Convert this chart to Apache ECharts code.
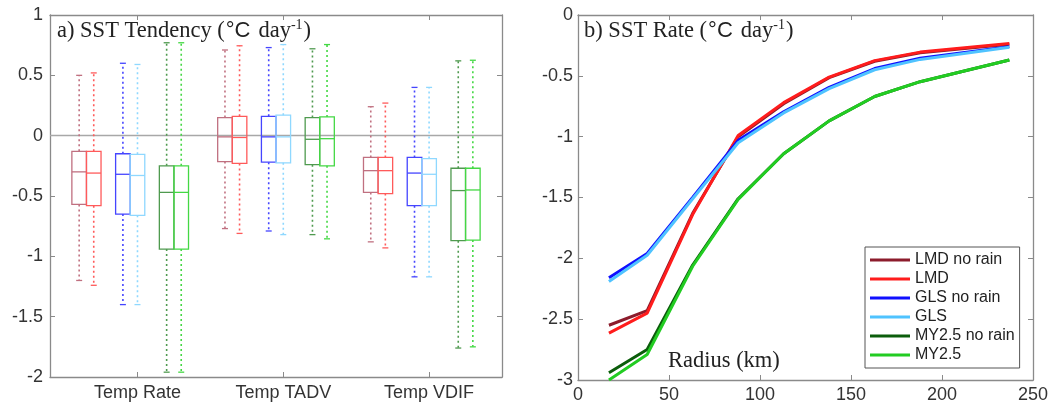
<!DOCTYPE html>
<html>
<head>
<meta charset="utf-8">
<title>SST Tendency / SST Rate</title>
<script src="https://cdn.jsdelivr.net/npm/echarts@6/dist/echarts.min.js"></script>
<style>
  html, body { margin: 0; padding: 0; background: #fff; }
  #main { width: 1058px; height: 407px; }
</style>
</head>
<body>
<div id="main"></div>
<script>
// ---- panel a: box statistics [min, q1, median, q3, max] for Rate / TADV / VDIF
var groupNames = ['Temp Rate', 'Temp TADV', 'Temp VDIF'];
var lmdNoRainBox = [[-1.20, -0.57, -0.30, -0.13, 0.50], [-0.77, -0.215, -0.01, 0.15, 0.71], [-0.88, -0.47, -0.29, -0.18, 0.24]];
var lmdBox = [[-1.24, -0.58, -0.31, -0.13, 0.52], [-0.81, -0.23, -0.015, 0.16, 0.745], [-0.93, -0.48, -0.29, -0.18, 0.27]];
var glsNoRainBox = [[-1.40, -0.65, -0.32, -0.15, 0.60], [-0.79, -0.22, -0.01, 0.16, 0.73], [-1.17, -0.58, -0.31, -0.18, 0.40]];
var glsBox = [[-1.40, -0.66, -0.33, -0.155, 0.59], [-0.82, -0.225, -0.01, 0.17, 0.755], [-1.17, -0.58, -0.32, -0.19, 0.40]];
var myNoRainBox = [[-1.96, -0.94, -0.47, -0.25, 0.77], [-0.82, -0.24, -0.03, 0.15, 0.72], [-1.76, -0.87, -0.455, -0.27, 0.62]];
var myBox = [[-1.96, -0.94, -0.47, -0.25, 0.77], [-0.855, -0.25, -0.025, 0.155, 0.755], [-1.75, -0.865, -0.45, -0.27, 0.625]];

// ---- panel b: SST rate vs radius
var radius = [17, 38, 63, 88, 113, 138, 163, 188, 237];
var lmdNoRain = [-2.55, -2.43, -1.63, -1.0, -0.73, -0.515, -0.38, -0.31, -0.24];
var lmd = [-2.615, -2.45, -1.64, -0.99, -0.72, -0.51, -0.375, -0.305, -0.235];
var glsNoRain = [-2.16, -1.96, -1.5, -1.03, -0.795, -0.595, -0.44, -0.355, -0.26];
var gls = [-2.19, -1.975, -1.51, -1.05, -0.805, -0.605, -0.45, -0.365, -0.265];
var myNoRain = [-2.94, -2.75, -2.055, -1.51, -1.14, -0.87, -0.67, -0.548, -0.37];
var my = [-3.0, -2.79, -2.065, -1.515, -1.14, -0.87, -0.67, -0.548, -0.37];

var seriesNames = ['LMD no rain', 'LMD', 'GLS no rain', 'GLS', 'MY2.5 no rain', 'MY2.5'];
var lineColors = ['#8c1c2c', '#ff1c1c', '#1010ff', '#4fc3ff', '#0b5d0b', '#22cc22'];
var boxColors = ['#c07080', '#ff5a5a', '#4545ff', '#8fd8ff', '#4f9a4f', '#44d844'];

// slots on the hidden category axis: 2 empty at each side, pairs separated by 1 slot
var slotCount = 32;
var slotOffset = [0, 1, 3, 4, 6, 7];
var xLabels = [];
for (var s = 0; s < slotCount; s++) xLabels.push('');
xLabels[6] = groupNames[0];
xLabels[16] = groupNames[1];
xLabels[26] = groupNames[2];

var allBoxes = [lmdNoRainBox, lmdBox, glsNoRainBox, glsBox, myNoRainBox, myBox];
var boxData = [];
for (var m = 0; m < allBoxes.length; m++) {
  for (var g = 0; g < 3; g++) {
    var b = allBoxes[m][g];
    boxData.push([2 + g * 10 + slotOffset[m], b[0], b[1], b[2], b[3], b[4], m]);
  }
}

function renderBox(params, api) {
  var x = api.value(0);
  var pMin = api.coord([x, api.value(1)]);
  var pQ1 = api.coord([x, api.value(2)]);
  var pMed = api.coord([x, api.value(3)]);
  var pQ3 = api.coord([x, api.value(4)]);
  var pMax = api.coord([x, api.value(5)]);
  var w = api.size([1, 0])[0];
  var cx = pMed[0];
  var color = boxColors[api.value(6)];
  var solid = { stroke: color, lineWidth: 1.3, fill: null };
  var dotted = { stroke: color, lineWidth: 1.6, lineDash: [2, 3], fill: null };
  return {
    type: 'group',
    children: [
      { type: 'line', shape: { x1: cx, y1: pQ3[1], x2: cx, y2: pMax[1] }, style: dotted },
      { type: 'line', shape: { x1: cx, y1: pQ1[1], x2: cx, y2: pMin[1] }, style: dotted },
      { type: 'line', shape: { x1: cx - 3, y1: pMax[1], x2: cx + 3, y2: pMax[1] }, style: solid },
      { type: 'line', shape: { x1: cx - 3, y1: pMin[1], x2: cx + 3, y2: pMin[1] }, style: solid },
      { type: 'rect', shape: { x: cx - w / 2, y: pQ3[1], width: w, height: pQ1[1] - pQ3[1] }, style: solid },
      { type: 'line', shape: { x1: cx - w / 2, y1: pMed[1], x2: cx + w / 2, y2: pMed[1] }, style: solid }
    ]
  };
}

var frame = { show: true, onZero: false, lineStyle: { color: '#8a8a8a', width: 1.3 } };
var ticksIn = { show: true, inside: true, length: 5, lineStyle: { color: '#8a8a8a' } };
var labelStyle = { color: '#333', fontFamily: 'Liberation Sans', fontSize: 18 };

function titleRich() {
  return {
    fontFamily: 'Liberation Serif', fontSize: 22.5, fontWeight: 'normal', color: '#222',
    rich: {
      t: { fontFamily: 'Liberation Serif', fontSize: 22.5, fontWeight: 'normal', color: '#222', lineHeight: 26 },
      c: { fontFamily: 'Liberation Sans', fontSize: 22, fontWeight: 'normal', color: '#222', lineHeight: 26, padding: [0, 8, 0, 1] },
      s: { fontFamily: 'Liberation Serif', fontSize: 14, fontWeight: 'normal', color: '#222', verticalAlign: 'top', lineHeight: 26, padding: [0, 1, 6, 0] }
    }
  };
}

var lineSets = [lmdNoRain, lmd, glsNoRain, gls, myNoRain, my];
var lineSeries = lineSets.map(function (vals, i) {
  return {
    name: seriesNames[i],
    type: 'line',
    xAxisIndex: 2,
    yAxisIndex: 2,
    data: radius.map(function (r, k) { return [r, vals[k]]; }),
    symbol: 'none',
    lineStyle: { color: lineColors[i], width: 3 },
    itemStyle: { color: lineColors[i] },
    z: 3
  };
});

var chart = echarts.init(document.getElementById('main'));
chart.setOption({
  animation: false,
  backgroundColor: '#fff',
  title: [
    { text: '{t|a) SST Tendency (}{c|°C}{t|day}{s|-1}{t|)}', left: 57, top: 18, padding: 0, textStyle: titleRich() },
    { text: '{t|b) SST Rate (}{c|°C}{t|day}{s|-1}{t|)}', left: 584, top: 18, padding: 0, textStyle: titleRich() }
  ],
  graphic: [
    { type: 'text', left: 668, top: 350, style: { text: 'Radius (km)', font: '22.5px "Liberation Serif"', fill: '#222' } }
  ],
  legend: {
    data: seriesNames,
    orient: 'vertical',
    left: 865,
    top: 247,
    icon: 'rect',
    itemWidth: 40,
    itemHeight: 3,
    itemGap: 3,
    padding: [5, 5, 5, 5],
    borderColor: '#555',
    borderWidth: 1,
    backgroundColor: '#fff',
    textStyle: { color: '#222', fontFamily: 'Liberation Sans', fontSize: 16, lineHeight: 16 }
  },
  grid: [
    { left: 50, top: 15, width: 452, height: 362 },
    { left: 578, top: 15, width: 455, height: 365 }
  ],
  xAxis: [
    {
      type: 'category', gridIndex: 0, data: xLabels, boundaryGap: false,
      axisLine: frame,
      axisTick: { show: true, inside: true, length: 5, lineStyle: { color: '#8a8a8a' },
        interval: function (i) { return xLabels[i] !== ''; } },
      axisLabel: Object.assign({ interval: 0, margin: 7 }, labelStyle),
      splitLine: { show: false }
    },
    {
      type: 'category', gridIndex: 0, data: xLabels, boundaryGap: false, position: 'top',
      axisLine: frame,
      axisTick: { show: true, inside: true, length: 5, lineStyle: { color: '#8a8a8a' },
        interval: function (i) { return xLabels[i] !== ''; } },
      axisLabel: { show: false },
      splitLine: { show: false }
    },
    {
      type: 'value', gridIndex: 1, min: 0, max: 250, interval: 50,
      axisLine: frame, axisTick: ticksIn,
      axisLabel: Object.assign({ margin: 6 }, labelStyle),
      splitLine: { show: false }
    },
    {
      type: 'value', gridIndex: 1, min: 0, max: 250, interval: 50, position: 'top',
      axisLine: frame, axisTick: ticksIn, axisLabel: { show: false }, splitLine: { show: false }
    }
  ],
  yAxis: [
    {
      type: 'value', gridIndex: 0, min: -2, max: 1, interval: 0.5,
      axisLine: frame, axisTick: ticksIn,
      axisLabel: Object.assign({ margin: 7 }, labelStyle),
      splitLine: { show: false }
    },
    {
      type: 'value', gridIndex: 0, min: -2, max: 1, interval: 0.5, position: 'right',
      axisLine: frame, axisTick: ticksIn, axisLabel: { show: false }, splitLine: { show: false }
    },
    {
      type: 'value', gridIndex: 1, min: -3, max: 0, interval: 0.5,
      axisLine: frame, axisTick: ticksIn,
      axisLabel: Object.assign({ margin: 5 }, labelStyle),
      splitLine: { show: false }
    },
    {
      type: 'value', gridIndex: 1, min: -3, max: 0, interval: 0.5, position: 'right',
      axisLine: frame, axisTick: ticksIn, axisLabel: { show: false }, splitLine: { show: false }
    }
  ],
  series: [
    {
      type: 'custom',
      xAxisIndex: 0,
      yAxisIndex: 0,
      renderItem: renderBox,
      encode: { x: 0, y: [1, 2, 3, 4, 5] },
      data: boxData,
      silent: true,
      z: 3,
      markLine: {
        silent: true,
        symbol: 'none',
        label: { show: false },
        lineStyle: { color: '#a8a8a8', width: 1.3, type: 'solid' },
        data: [{ yAxis: 0 }],
        z: 2
      }
    }
  ].concat(lineSeries)
});
</script>
</body>
</html>
